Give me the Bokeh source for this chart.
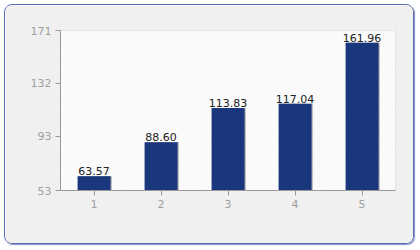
from bokeh.plotting import figure
from bokeh.models import BoxAnnotation, ColumnDataSource, Range1d, FixedTicker, LabelSet
from bokeh.core.properties import value
from bokeh.embed import file_html
from bokeh.resources import INLINE

categories = ["1", "2", "3", "4", "5"]
values = [63.57, 88.60, 113.83, 117.04, 161.96]
labels = ["63.57", "88.60", "113.83", "117.04", "161.96"]
y_ticks = [53, 93, 132, 171]

xs = [i + 1 for i in range(len(categories))]
src = ColumnDataSource(dict(x=xs, top=values, lab=labels, xs=[x + 0.012 for x in xs]))

p = figure(width=410, height=240, output_backend="svg", toolbar_location=None,
           x_range=Range1d(0.5, 5.5), y_range=Range1d(53, 171),
           min_border_left=55, min_border_right=20, min_border_top=25, min_border_bottom=55,
           border_fill_color="#f0f0f0", background_fill_color="#ffffff",
           outline_line_color="#d8d8d8",
           styles={"margin": "4px", "border": "1px solid #5a6db0", "border-radius": "8px",
                   "box-shadow": "1px 1px 1px #8090c8", "overflow": "hidden"})

p.add_layout(BoxAnnotation(fill_color="#ffffff", fill_alpha=1.0, line_color=None,
                           hatch_pattern="/", hatch_color="#f3f3f3", hatch_alpha=1.0,
                           hatch_scale=5, hatch_weight=1, level="underlay"))

# bar shadow
p.vbar(x="xs", top="top", bottom=53, width=0.5, source=src, fill_color="#8a8f99",
       line_color=None)
p.vbar(x="x", top="top", bottom=53, width=0.49, source=src, fill_color="#1a377e", line_color=None)

p.add_layout(LabelSet(x="x", y="top", text="lab", source=src, text_align="center",
                      text_baseline="bottom", y_offset=1, text_font_size=value("11px"),
                      text_color="#222222", text_font=value("DejaVu Sans")))

p.xaxis.ticker = FixedTicker(ticks=xs)
p.xaxis.major_label_overrides = {x: c for x, c in zip(xs, categories)}
p.yaxis.ticker = FixedTicker(ticks=y_ticks)

for ax in (p.xaxis[0], p.yaxis[0]):
    ax.axis_line_color = "#999999"
    ax.major_tick_line_color = "#999999"
    ax.minor_tick_line_color = None
    ax.major_tick_in = 0
    ax.major_tick_out = 5
    ax.major_label_text_color = "#a0a0a0"
    ax.major_label_text_font = "DejaVu Sans"
    ax.major_label_text_font_size = "11px"
    ax.major_label_standoff = 4

p.xgrid.ticker = FixedTicker(ticks=xs)
p.xgrid.grid_line_color = "#e2e2e2"
p.xgrid.grid_line_dash = "6 4"
p.ygrid.grid_line_color = "#e2e2e2"
p.ygrid.grid_line_dash = "6 4"

open("out.html", "w").write(file_html(p, INLINE))
